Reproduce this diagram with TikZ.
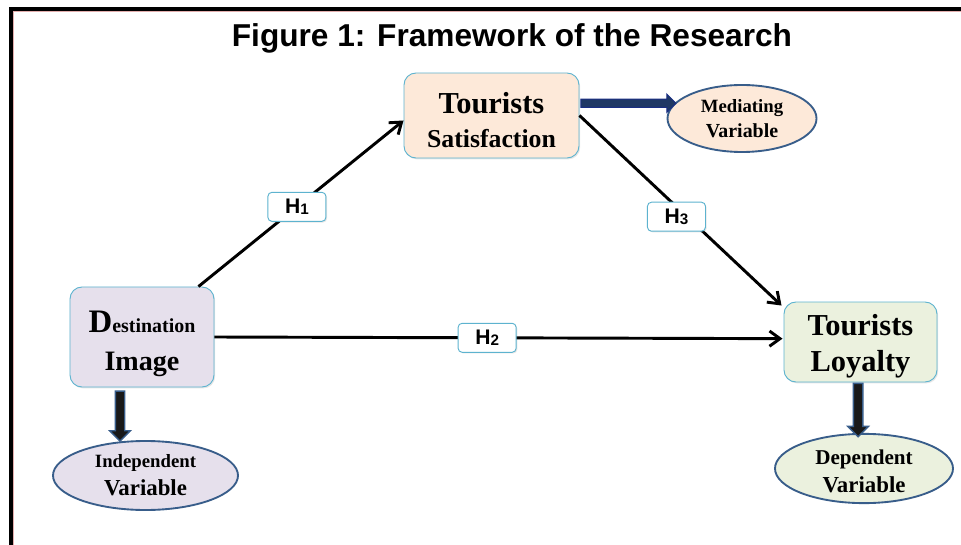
\documentclass[tikz,border=0pt]{standalone}
\usepackage{fontspec}
\setmainfont{Liberation Serif}
\newfontfamily\arialfont{Liberation Sans}
\usetikzlibrary{arrows.meta,shapes.geometric,shapes.arrows,shadows}
\definecolor{lavender}{HTML}{E6E0EC}
\definecolor{peach}{HTML}{FDE9D9}
\definecolor{palegreen}{HTML}{EBF1DE}
\definecolor{boxline}{HTML}{5DB3CF}
\definecolor{ovalline}{HTML}{385D8A}
\definecolor{navy}{HTML}{1F3864}
\definecolor{framepink}{HTML}{E3AEAD}

\begin{document}
\begin{tikzpicture}[x=0.03cm,y=-0.03cm,
  conbox/.style={draw=boxline,line width=0.8pt,rounded corners=0.36cm,align=center,
    drop shadow={shadow xshift=1pt,shadow yshift=-1.2pt,opacity=0.2}},
  varoval/.style={ellipse,draw=ovalline,line width=1.6pt,align=center,inner sep=0pt},
  hyp/.style={draw=boxline,fill=white,line width=0.8pt,rounded corners=0.12cm,font=\arialfont\bfseries\fontsize{18}{18}\selectfont,
    minimum width=1.74cm,minimum height=0.87cm,inner sep=0pt,
    drop shadow={shadow xshift=1pt,shadow yshift=-1pt,opacity=0.2}},
  conn/.style={line width=2.5pt,-{Straight Barb[length=9pt,width=13pt,line width=2.5pt]}},
  fatdown/.style={single arrow,fill=black!90,draw=ovalline,line width=1.2pt,inner xsep=0pt,inner ysep=0.12cm,
    single arrow head extend=0.17cm,rotate=-90},
  fatright/.style={single arrow,fill=navy,draw=navy!80!blue,line width=0.8pt,inner xsep=0pt,inner ysep=0.11cm,
    single arrow head extend=0.15cm}]

\useasboundingbox (0,0) rectangle (961,545);

% frame
\fill[black] (9,7) rectangle (961,11);
\fill[black] (9,7) rectangle (13,545);
\fill[framepink] (13,11) rectangle (961,12);
\fill[framepink] (13,11) rectangle (14,545);

\node[font=\arialfont\bfseries\fontsize{27}{28}\selectfont] (title) at (512,38) {Figure 1: Framework of the Research};

% concepts
\node[conbox,fill=lavender,minimum width=4.32cm,minimum height=3cm,font=\bfseries\fontsize{24}{33}\selectfont] (dest) at (142,337)
  {\rule{0pt}{30pt}{\fontsize{28}{33}\selectfont D}{\fontsize{17}{33}\selectfont estination}\\Image};
\node[conbox,fill=peach,minimum width=5.25cm,minimum height=2.55cm,font=\bfseries\fontsize{26}{29}\selectfont] (sat) at (491.5,115.5)
  {\rule{0pt}{25pt}Tourists\\{\fontsize{22}{29}\selectfont Satisfaction}};
\node[conbox,fill=palegreen,minimum width=4.59cm,minimum height=2.34cm,font=\bfseries\fontsize{26}{31}\selectfont] (loy) at (860.5,342)
  {\rule{0pt}{25pt}Tourists\\Loyalty};

% variable types
\node[varoval,fill=peach,minimum width=4.47cm,minimum height=2.01cm,font=\bfseries\fontsize{16}{21.5}\selectfont] (med) at (742,118.5)
  {Mediating\\{\fontsize{17}{21.5}\selectfont Variable}};
\node[varoval,fill=lavender,minimum width=5.55cm,minimum height=2.07cm,font=\bfseries\fontsize{16}{24}\selectfont] (indep) at (145.5,475.5)
  {Independent\\{\fontsize{19.5}{24}\selectfont Variable}};
\node[varoval,fill=palegreen,minimum width=5.34cm,minimum height=1.89cm,font=\bfseries\fontsize{18}{24}\selectfont] (dep) at (864,468.5)
  {\rule{0pt}{17.5pt}Dependent\\{\fontsize{19.5}{24}\selectfont Variable}};

% hypotheses
\draw[conn] ([xshift=-0.48cm]dest.north east) -- node[hyp,pos=0.48] (h1) {H\raisebox{-1.5pt}{\fontsize{13}{13}\selectfont 1}} ([yshift=-0.15cm]sat.west);
\draw[conn] (dest.east) -- node[hyp,pos=0.48] (h2) {H\raisebox{-1.5pt}{\fontsize{13}{13}\selectfont 2}} ([yshift=0.1cm,xshift=-0.03cm]loy.west);
\draw[conn] (sat.east) -- node[hyp,pos=0.48,yshift=-0.3cm] (h3) {H\raisebox{-1.5pt}{\fontsize{13}{13}\selectfont 3}} ([yshift=-0.12cm,xshift=-0.06cm]loy.north west);

% block arrows
\path ([xshift=-0.66cm]dest.south) -- ([xshift=-0.76cm]indep.north) node[fatdown,midway,minimum height=1.5cm] (a1) {};
\path ([xshift=-0.07cm]loy.south) -- ([xshift=-0.18cm]dep.north) node[fatdown,midway,minimum height=1.6cm] (a2) {};
\path ([yshift=0.375cm]sat.east) -- ([yshift=0.45cm]med.west) node[fatright,midway,xshift=0.1cm,minimum height=2.85cm] (a3) {};

\end{tikzpicture}
\end{document}
